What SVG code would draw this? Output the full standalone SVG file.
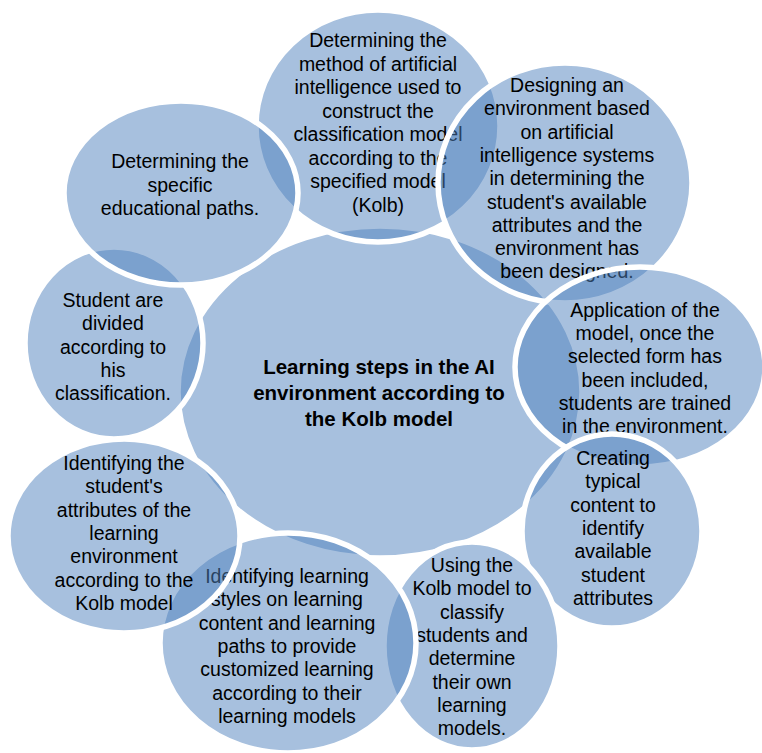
<svg xmlns="http://www.w3.org/2000/svg" width="762" height="753" viewBox="0 0 762 753">
<style>
  .c { fill: #4F81BD; fill-opacity: 0.5; stroke: #FFFFFF; stroke-width: 5.5; }
  .t { font-family: "Liberation Sans", Arial, sans-serif; font-size: 19.5px; fill: #000000; text-anchor: middle; }
  .h { font-family: "Liberation Sans", Arial, sans-serif; font-size: 20.5px; font-weight: bold; fill: #000000; text-anchor: middle; }
</style>
<rect width="762" height="753" fill="#FFFFFF"/>
<g id="connectors"></g>
<g id="center">
  <ellipse class="c" cx="380" cy="392" rx="202" ry="166"/>
  <text class="h" x="379" y="374">Learning steps in the AI<tspan x="379" y="400">environment according to</tspan><tspan x="379" y="426">the Kolb model</tspan></text>
</g>
<g id="node1">
  <ellipse class="c" cx="378" cy="126" rx="122" ry="116"/>
  <text class="t" x="378" y="47">Determining the<tspan x="378" dy="23.5">method of artificial</tspan><tspan x="378" dy="23.5">intelligence used to</tspan><tspan x="378" dy="23.5">construct the</tspan><tspan x="378" dy="23.5">classification model</tspan><tspan x="378" dy="23.5">according to the</tspan><tspan x="378" dy="23.5">specified model</tspan><tspan x="378" dy="23.5">(Kolb)</tspan></text>
</g>
<g id="node2">
  <ellipse class="c" cx="565" cy="183" rx="127" ry="120"/>
  <text class="t" x="567" y="92">Designing an<tspan x="567" dy="23.3">environment based</tspan><tspan x="567" dy="23.3">on artificial</tspan><tspan x="567" dy="23.3">intelligence systems</tspan><tspan x="567" dy="23.3">in determining the</tspan><tspan x="567" dy="23.3">student's available</tspan><tspan x="567" dy="23.3">attributes and the</tspan><tspan x="567" dy="23.3">environment has</tspan><tspan x="567" dy="23.3">been designed.</tspan></text>
</g>
<g id="node3">
  <ellipse class="c" cx="640" cy="367" rx="125" ry="100"/>
  <text class="t" x="645" y="317">Application of the<tspan x="645" dy="23.2">model, once the</tspan><tspan x="645" dy="23.2">selected form has</tspan><tspan x="645" dy="23.2">been included,</tspan><tspan x="645" dy="23.2">students are trained</tspan><tspan x="645" dy="23.2">in the environment.</tspan></text>
</g>
<g id="node4">
  <ellipse class="c" cx="612" cy="531" rx="90" ry="97"/>
  <text class="t" x="613" y="465">Creating<tspan x="613" dy="23.3">typical</tspan><tspan x="613" dy="23.3">content to</tspan><tspan x="613" dy="23.3">identify</tspan><tspan x="613" dy="23.3">available</tspan><tspan x="613" dy="23.3">student</tspan><tspan x="613" dy="23.3">attributes</tspan></text>
</g>
<g id="node5">
  <ellipse class="c" cx="472" cy="646" rx="88" ry="104"/>
  <text class="t" x="472" y="572">Using the<tspan x="472" dy="23.3">Kolb model to</tspan><tspan x="472" dy="23.3">classify</tspan><tspan x="472" dy="23.3">students and</tspan><tspan x="472" dy="23.3">determine</tspan><tspan x="472" dy="23.3">their own</tspan><tspan x="472" dy="23.3">learning</tspan><tspan x="472" dy="23.3">models.</tspan></text>
</g>
<g id="node6">
  <ellipse class="c" cx="288" cy="643" rx="128" ry="110"/>
  <text class="t" x="287" y="583">Identifying learning<tspan x="287" dy="23.3">styles on learning</tspan><tspan x="287" dy="23.3">content and learning</tspan><tspan x="287" dy="23.3">paths to provide</tspan><tspan x="287" dy="23.3">customized learning</tspan><tspan x="287" dy="23.3">according to their</tspan><tspan x="287" dy="23.3">learning models</tspan></text>
</g>
<g id="node7">
  <ellipse class="c" cx="124" cy="536" rx="116" ry="97"/>
  <text class="t" x="124" y="470">Identifying the<tspan x="124" dy="23.3">student's</tspan><tspan x="124" dy="23.3">attributes of the</tspan><tspan x="124" dy="23.3">learning</tspan><tspan x="124" dy="23.3">environment</tspan><tspan x="124" dy="23.3">according to the</tspan><tspan x="124" dy="23.3">Kolb model</tspan></text>
</g>
<g id="node8">
  <ellipse class="c" cx="114" cy="343" rx="89" ry="96"/>
  <text class="t" x="113" y="307">Student are<tspan x="113" dy="23.3">divided</tspan><tspan x="113" dy="23.3">according to</tspan><tspan x="113" dy="23.3">his</tspan><tspan x="113" dy="23.3">classification.</tspan></text>
</g>
<g id="node9">
  <ellipse class="c" cx="181" cy="193" rx="117" ry="92"/>
  <text class="t" x="180" y="168">Determining the<tspan x="180" dy="23.5">specific</tspan><tspan x="180" dy="23.5">educational paths.</tspan></text>
</g>
</svg>
